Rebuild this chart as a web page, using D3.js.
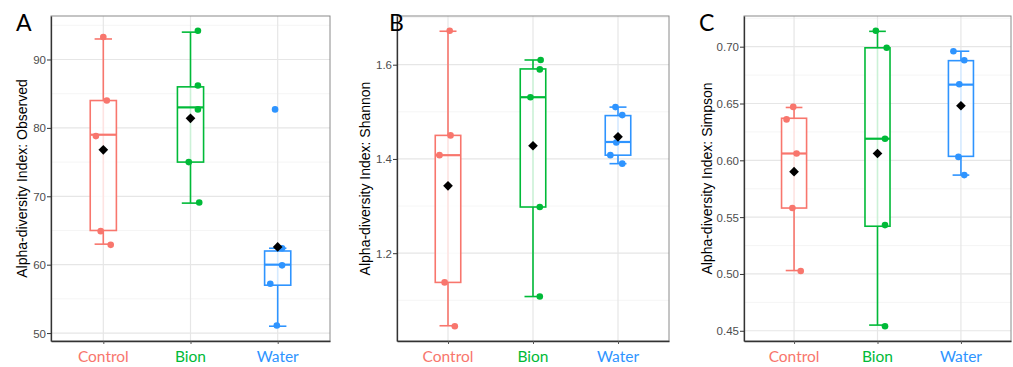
<!DOCTYPE html>
<html>
<head>
<meta charset="utf-8">
<script src="https://cdn.jsdelivr.net/npm/d3@7"></script>
<style>
  body { margin: 0; background: #fff; }
  svg { display: block; }
  .tick-lab { font-family: "Liberation Sans", Arial, sans-serif; font-size: 11.5px; fill: #4d4d4d; }
  .y-title { font-family: "Liberation Sans", Arial, sans-serif; font-size: 14px; fill: #000; }
  .x-lab { font-family: Lato, "Open Sans", sans-serif; font-size: 15.5px; }
  .letter { font-family: Lato, "Liberation Sans", sans-serif; font-size: 23px; fill: #000; }
</style>
</head>
<body>
<div id="chart"></div>
<script>
var groups = ["Control", "Bion", "Water"];
var groupColors = ["#f8766d", "#00ba38", "#2e94ff"];

// box stats: [lower whisker, Q1, median, Q3, upper whisker]
var observedStats = [[63, 65, 79, 84, 93], [69, 75, 83, 86, 94], [51, 57, 60, 62, 62.4]];
var observedPoints = [[93.3, 84, 78.8, 64.9, 62.9], [94.2, 86.2, 82.7, 75, 69.1], [82.7, 62.4, 59.9, 57.2, 51.1]];
var observedJitter = [[0, 0.04, -0.085, -0.03, 0.085], [0.085, 0.085, 0.085, -0.02, 0.1], [-0.03, 0.05, 0.05, -0.085, -0.01]];
var observedMeans = [76.8, 81.4, 62.6];
var observedTicks = [50, 60, 70, 80, 90];

var shannonStats = [[1.046, 1.138, 1.408, 1.45, 1.671], [1.108, 1.298, 1.531, 1.591, 1.61], [1.39, 1.408, 1.436, 1.492, 1.51]];
var shannonPoints = [[1.672, 1.45, 1.408, 1.138, 1.045], [1.61, 1.59, 1.531, 1.298, 1.108], [1.51, 1.493, 1.435, 1.408, 1.39]];
var shannonJitter = [[0.02, 0.03, -0.1, -0.04, 0.08], [0.09, 0.08, -0.03, 0.08, 0.08], [-0.03, 0.05, -0.02, -0.09, 0.05]];
var shannonMeans = [1.343, 1.428, 1.447];
var shannonTicks = [1.2, 1.4, 1.6];

var simpsonStats = [[0.503, 0.558, 0.606, 0.637, 0.6465], [0.455, 0.542, 0.619, 0.699, 0.7135], [0.587, 0.6035, 0.6666, 0.6877, 0.696]];
var simpsonPoints = [[0.647, 0.636, 0.606, 0.558, 0.5026], [0.714, 0.699, 0.619, 0.543, 0.454], [0.696, 0.688, 0.667, 0.603, 0.587]];
var simpsonJitter = [[-0.01, -0.09, 0.03, -0.02, 0.08], [-0.02, 0.11, 0.09, 0.09, 0.09], [-0.09, 0.04, -0.02, -0.03, 0.04]];
var simpsonMeans = [0.590, 0.606, 0.648];
var simpsonTicks = [0.45, 0.50, 0.55, 0.60, 0.65, 0.70];

var svg = d3.select("#chart").append("svg")
    .attr("width", 1013)
    .attr("height", 367);

function drawPanel(p) {
    var g = svg.append("g");
    var left = p.left, right = p.right, top = 16, bottom = 341;

    // ggplot style 5% expansion around all values
    var all = d3.merge(p.stats).concat(d3.merge(p.points));
    var ext = d3.extent(all);
    var pad = (ext[1] - ext[0]) * 0.05;
    var y = d3.scaleLinear().domain([ext[0] - pad, ext[1] + pad]).range([bottom, top]);
    // discrete axis, 0.6 expansion each side
    var x = d3.scaleLinear().domain([0.4, 3.6]).range([left, right]);
    var unit = x(1) - x(0);

    // minor grid
    var minor = [];
    for (var i = 0; i < p.ticks.length; i++) {
        var step = p.ticks.length > 1 ? p.ticks[1] - p.ticks[0] : 0;
        minor.push(p.ticks[i] - step / 2);
        if (i == p.ticks.length - 1) minor.push(p.ticks[i] + step / 2);
    }
    minor = minor.filter(v => v > y.domain()[0] && v < y.domain()[1]);
    g.selectAll(".minor").data(minor).join("line")
        .attr("x1", left).attr("x2", right)
        .attr("y1", d => y(d)).attr("y2", d => y(d))
        .attr("stroke", "#f2f2f2").attr("stroke-width", 0.8);
    g.selectAll(".major").data(p.ticks).join("line")
        .attr("x1", left).attr("x2", right)
        .attr("y1", d => y(d)).attr("y2", d => y(d))
        .attr("stroke", "#e6e6e6").attr("stroke-width", 1.2);
    g.selectAll(".vmajor").data(groups).join("line")
        .attr("x1", (d, i) => x(i + 1)).attr("x2", (d, i) => x(i + 1))
        .attr("y1", top).attr("y2", bottom)
        .attr("stroke", "#e6e6e6").attr("stroke-width", 1.2);

    // panel border
    g.append("rect")
        .attr("x", left).attr("y", top)
        .attr("width", right - left).attr("height", bottom - top)
        .attr("fill", "none").attr("stroke", "#8a8a8a").attr("stroke-width", 1);

    // axes
    var yAxis = d3.axisLeft(y).tickValues(p.ticks).tickSizeInner(4).tickSizeOuter(0).tickFormat(p.format);
    var ya = g.append("g").attr("transform", `translate(${left},0)`).call(yAxis);
    ya.select(".domain").attr("stroke", "#333").attr("stroke-width", 1.3);
    ya.selectAll(".tick line").attr("stroke", "#333");
    ya.selectAll(".tick text").attr("class", "tick-lab").attr("x", -5).attr("dy", "0.35em");
    ya.attr("font-size", null).attr("font-family", null);

    var xa = g.append("g").attr("transform", `translate(0,${bottom})`)
        .call(d3.axisBottom(x).tickValues([1, 2, 3]).tickSizeInner(3).tickSizeOuter(0).tickFormat(""));
    xa.select(".domain").attr("stroke", "#333").attr("stroke-width", 1.3);
    xa.selectAll(".tick line").attr("stroke", "#555");

    g.selectAll(".x-lab").data(groups).join("text")
        .attr("class", "x-lab")
        .attr("x", (d, i) => x(i + 1))
        .attr("y", 362)
        .attr("text-anchor", "middle")
        .attr("fill", (d, i) => groupColors[i])
        .text(d => d);

    // y title
    g.append("text").attr("class", "y-title")
        .attr("transform", `translate(${p.titleX},${(top + bottom) / 2}) rotate(-90)`)
        .attr("text-anchor", "middle")
        .attr("dy", "0.35em")
        .text(p.title);

    g.append("text").attr("class", "letter")
        .attr("x", p.letterX).attr("y", 31)
        .text(p.letter);

    // boxplots
    var boxW = 0.3 * unit, capW = 0.2 * unit;
    var box = g.selectAll(".box").data(p.stats).join("g").attr("class", "box");
    box.append("line")
        .attr("x1", (d, i) => x(i + 1)).attr("x2", (d, i) => x(i + 1))
        .attr("y1", d => y(d[0])).attr("y2", d => y(d[4]))
        .attr("stroke", (d, i) => groupColors[i]).attr("stroke-width", 1.6);
    box.append("line")
        .attr("x1", (d, i) => x(i + 1) - capW / 2).attr("x2", (d, i) => x(i + 1) + capW / 2)
        .attr("y1", d => y(d[0])).attr("y2", d => y(d[0]))
        .attr("stroke", (d, i) => groupColors[i]).attr("stroke-width", 1.6);
    box.append("line")
        .attr("x1", (d, i) => x(i + 1) - capW / 2).attr("x2", (d, i) => x(i + 1) + capW / 2)
        .attr("y1", d => y(d[4])).attr("y2", d => y(d[4]))
        .attr("stroke", (d, i) => groupColors[i]).attr("stroke-width", 1.6);
    box.append("rect")
        .attr("x", (d, i) => x(i + 1) - boxW / 2)
        .attr("width", boxW)
        .attr("y", d => y(d[3]))
        .attr("height", d => y(d[1]) - y(d[3]))
        .attr("fill", "#fff").attr("fill-opacity", 0.8)
        .attr("stroke", (d, i) => groupColors[i]).attr("stroke-width", 1.6);
    box.append("line")
        .attr("x1", (d, i) => x(i + 1) - boxW / 2).attr("x2", (d, i) => x(i + 1) + boxW / 2)
        .attr("y1", d => y(d[2])).attr("y2", d => y(d[2]))
        .attr("stroke", (d, i) => groupColors[i]).attr("stroke-width", 2.2);

    // jittered points
    var pts = [];
    p.points.forEach(function (list, gi) {
        list.forEach(function (v, j) {
            pts.push({ g: gi, v: v, dx: p.jitter[gi][j] });
        });
    });
    g.selectAll(".pt").data(pts).join("circle")
        .attr("cx", d => x(d.g + 1 + d.dx))
        .attr("cy", d => y(d.v))
        .attr("r", 3.3)
        .attr("fill", d => groupColors[d.g]);

    // means
    g.selectAll(".mean").data(p.means).join("path")
        .attr("transform", (d, i) => `translate(${x(i + 1)},${y(d)})`)
        .attr("d", d3.symbol(d3.symbolDiamond2, 60))
        .attr("fill", "#000");
}

drawPanel({ left: 51, right: 330, letter: "A", letterX: 16, titleX: 22,
    title: "Alpha-diversity Index: Observed", stats: observedStats, points: observedPoints,
    jitter: observedJitter, means: observedMeans, ticks: observedTicks, format: d3.format("d") });
drawPanel({ left: 397, right: 669, letter: "B", letterX: 389, titleX: 365,
    title: "Alpha-diversity Index: Shannon", stats: shannonStats, points: shannonPoints,
    jitter: shannonJitter, means: shannonMeans, ticks: shannonTicks, format: d3.format(".1f") });
drawPanel({ left: 744, right: 1011, letter: "C", letterX: 699, titleX: 707,
    title: "Alpha-diversity Index: Simpson", stats: simpsonStats, points: simpsonPoints,
    jitter: simpsonJitter, means: simpsonMeans, ticks: simpsonTicks, format: d3.format(".2f") });
</script>
</body>
</html>
